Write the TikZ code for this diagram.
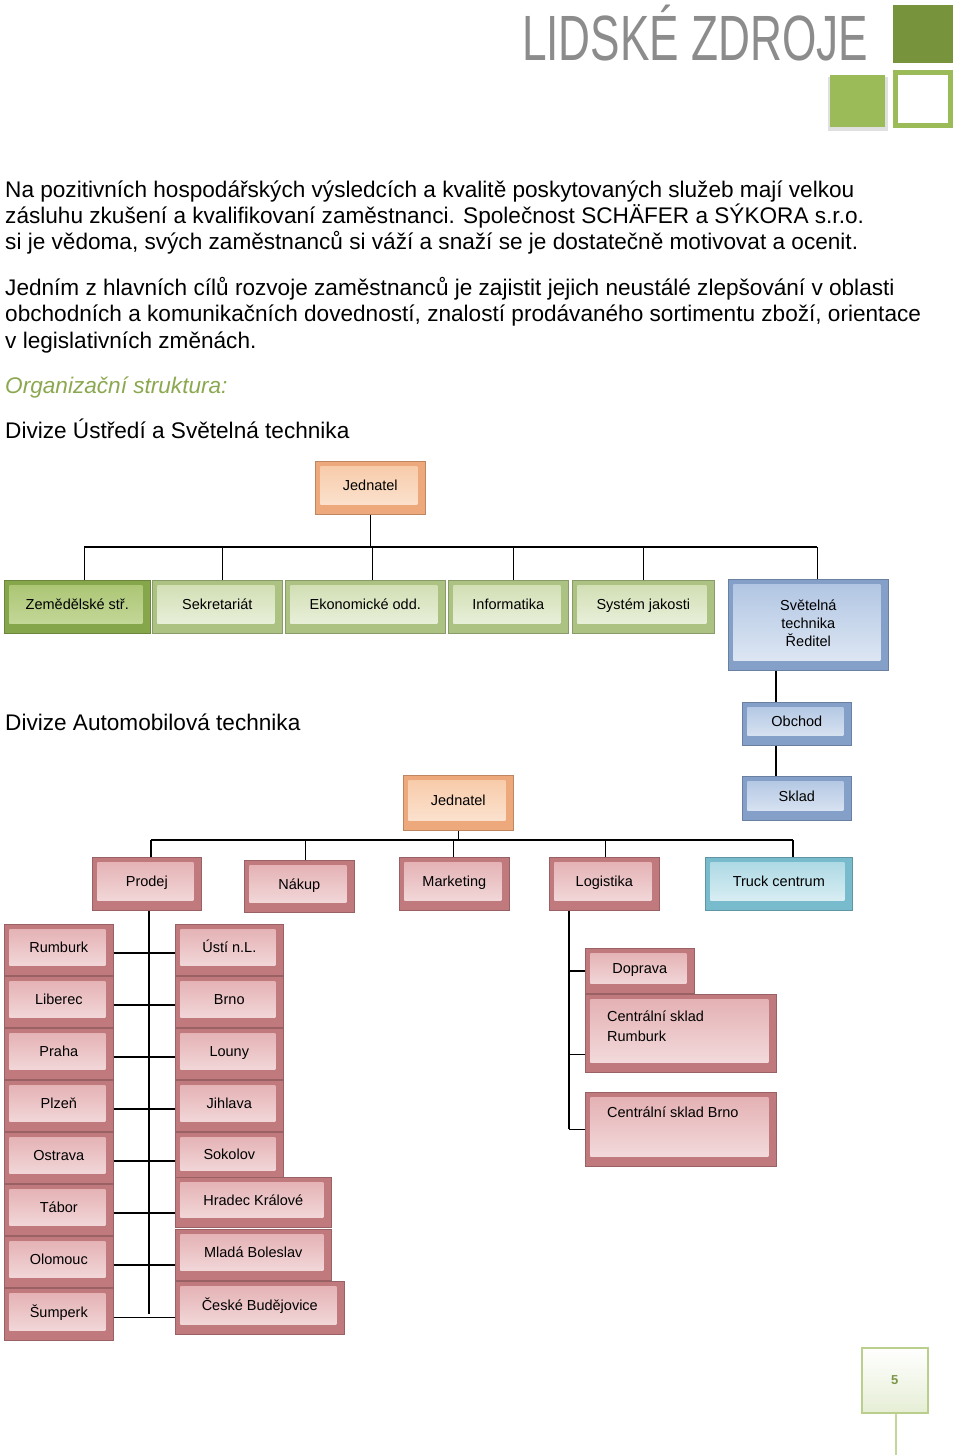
\documentclass[tikz,border=0pt]{standalone}
\usepackage{fontspec}
\setmainfont{Liberation Sans}
\definecolor{pinkO}{HTML}{C0797D}\definecolor{pinkT}{HTML}{E3AEB1}\definecolor{pinkB}{HTML}{F5E0E1}
\definecolor{grnO}{HTML}{ABC282}\definecolor{grnT}{HTML}{CFDDB0}\definecolor{grnB}{HTML}{EEF3E2}
\definecolor{dgrO}{HTML}{86A64C}\definecolor{dgrT}{HTML}{A9C471}\definecolor{dgrB}{HTML}{C9DBA0}
\definecolor{bluO}{HTML}{85A0C8}\definecolor{bluT}{HTML}{AFC4E2}\definecolor{bluB}{HTML}{E2EAF5}
\definecolor{orgO}{HTML}{EDA97B}\definecolor{orgT}{HTML}{F7C9A6}\definecolor{orgB}{HTML}{FCE6D6}
\definecolor{cyaO}{HTML}{78BBCC}\definecolor{cyaT}{HTML}{A9D7E3}\definecolor{cyaB}{HTML}{E2F2F6}
\definecolor{ttlgrey}{HTML}{8C8C8C}
\definecolor{dkgreen}{HTML}{77933C}\definecolor{ltgreen}{HTML}{9BBB59}
\tikzset{
 bev/.style n args={3}{fill=#1, draw=#1!80!black, line width=0.6pt,
   path picture={\shade[top color=#2,bottom color=#3]
     ([shift={(5pt,-5pt)}]path picture bounding box.north west) rectangle
     ([shift={(-8pt,10pt)}]path picture bounding box.south east);}},
 pinkb/.style={bev={pinkO}{pinkT}{pinkB}},
 grnb/.style={bev={grnO}{grnT}{grnB}},
 dgrb/.style={bev={dgrO}{dgrT}{dgrB}},
 blub/.style={bev={bluO}{bluT}{bluB}},
 orgb/.style={bev={orgO}{orgT}{orgB}},
 cyab/.style={bev={cyaO}{cyaT}{cyaB}},
 body/.style={anchor=base west, inner sep=0pt, font=\fontsize{22.6}{26}\selectfont},
 conn/.style={draw=black, line width=1.5pt},
}
\newcommand\bx[7]{\node[#6, minimum width={(#4-#2)*1pt}, minimum height={(#5-#3)*1pt},
  inner sep=0pt, anchor=north west, font=\fontsize{14.5}{18}\selectfont] (#1) at (#2,#3)
  {\raisebox{7pt}{\begin{tabular}{@{}c@{}}#7\end{tabular}}};}
\begin{document}
\begin{tikzpicture}[x=1pt,y=-1pt]
\useasboundingbox (0,0) rectangle (960,1455);
% header
\node[anchor=base west, inner sep=0pt, text=ttlgrey, xscale=0.69, font=\fontsize{64}{64}\selectfont] (title) at (522,61) {LIDSKÉ ZDROJE};
\fill[dkgreen] (893,5) rectangle (953,63);
\fill[black!12] (828,77) rectangle (888,131);
\fill[ltgreen] (830,75) rectangle (885,127);
\draw[ltgreen, line width=5pt] (895.5,72.5) rectangle (950.5,125.5);
% text
\node[body] (p1) at (5,198) {Na pozitivních hospodářských výsledcích a kvalitě poskytovaných služeb mají velkou};
\node[body] (p2) at (5,224) {zásluhu zkušení a kvalifikovaní zaměstnanci. Společnost SCHÄFER a SÝKORA s.r.o.};
\node[body] (p3) at (5,250) {si je vědoma, svých zaměstnanců si váží a snaží se je dostatečně motivovat a ocenit.};
\node[body] (q1) at (5,295) {Jedním z hlavních cílů rozvoje zaměstnanců je zajistit jejich neustálé zlepšování v oblasti};
\node[body] (q2) at (5,321) {obchodních a komunikačních dovedností, znalostí prodávaného sortimentu zboží, orientace};
\node[body] (q3) at (5,348) {v legislativních změnách.};
\node[body, text=ltgreen!90!black, font=\fontsize{22.6}{26}\selectfont\itshape] (org) at (5,393) {Organizační struktura:};
\node[body] (div1) at (5,438) {Divize Ústředí a Světelná technika};
\node[body] (div2) at (5,730) {Divize Automobilová technika};
% chart 1
\bx{jed1}{315}{461}{425}{514}{orgb}{Jednatel}
\bx{zem}{4}{580}{150}{633}{dgrb}{Zemědělské stř.}
\bx{sek}{152}{580}{282}{633}{grnb}{Sekretariát}
\bx{eko}{285}{580}{445}{633}{grnb}{Ekonomické odd.}
\bx{inf}{448}{580}{568}{633}{grnb}{Informatika}
\bx{sys}{572}{580}{714}{633}{grnb}{Systém jakosti}
\bx{svt}{728}{579}{888}{670}{blub}{Světelná\\technika\\Ředitel}
\bx{obc}{742}{702}{851}{745}{blub}{Obchod}
\bx{skl}{742}{776}{851}{820}{blub}{Sklad}
\coordinate (b1) at (0,547);
\draw[conn] (jed1.south) -- (jed1.south |- b1);
\draw[conn] ([xshift=7pt]zem.north |- b1) -- ([xshift=9pt]svt.north |- b1);
\foreach \n/\d in {zem/7,sek/5,eko/7,inf/5,sys/0,svt/9} \draw[conn] ([xshift=\d pt]\n.north) -- ([xshift=\d pt]\n.north |- b1);
\draw[conn] ([xshift=-21pt]obc.north |- svt.south) -- ([xshift=-21pt]obc.north);
\draw[conn] ([xshift=-21pt]obc.south) -- ([xshift=-21pt]skl.north);
% chart 2
\bx{jed2}{403}{775}{513}{830}{orgb}{Jednatel}
\bx{pro}{92}{857}{201}{910}{pinkb}{Prodej}
\bx{nak}{244}{860}{354}{912}{pinkb}{Nákup}
\bx{mar}{399}{857}{509}{910}{pinkb}{Marketing}
\bx{log}{549}{857}{659}{910}{pinkb}{Logistika}
\bx{trk}{705}{857}{852}{910}{cyab}{Truck centrum}
\coordinate (b2) at (0,840);
\draw[conn] (jed2.south) -- (jed2.south |- b2);
\draw[conn] ([xshift=4pt]pro.north |- b2) -- ([xshift=14pt]trk.north |- b2);
\foreach \n/\d in {pro/4,nak/6,mar/-1,log/1,trk/14} \draw[conn] ([xshift=\d pt]\n.north) -- ([xshift=\d pt]\n.north |- b2);
% left columns
\bx{rum}{4}{924}{113}{975}{pinkb}{Rumburk}
\bx{lib}{4}{976}{113}{1027}{pinkb}{Liberec}
\bx{pra}{4}{1028}{113}{1079}{pinkb}{Praha}
\bx{plz}{4}{1080}{113}{1131}{pinkb}{Plzeň}
\bx{ost}{4}{1132}{113}{1183}{pinkb}{Ostrava}
\bx{tab}{4}{1184}{113}{1235}{pinkb}{Tábor}
\bx{olo}{4}{1236}{113}{1287}{pinkb}{Olomouc}
\bx{sum}{4}{1288}{113}{1340}{pinkb}{Šumperk}
\bx{ust}{175}{924}{283}{975}{pinkb}{Ústí n.L.}
\bx{brn}{175}{976}{283}{1027}{pinkb}{Brno}
\bx{lou}{175}{1028}{283}{1079}{pinkb}{Louny}
\bx{jih}{175}{1080}{283}{1131}{pinkb}{Jihlava}
\bx{sok}{175}{1132}{283}{1180}{pinkb}{Sokolov}
\bx{hra}{175}{1177}{331}{1227}{pinkb}{Hradec Králové}
\bx{mla}{175}{1229}{331}{1280}{pinkb}{Mladá Boleslav}
\bx{ceb}{175}{1281}{344}{1334}{pinkb}{České Budějovice}
\draw[conn] ([xshift=2pt]pro.south) -- ([xshift=2pt]pro.south |- sum.east);
\foreach \a/\b in {rum/ust,lib/brn,pra/lou,plz/jih,ost/sok} \draw[conn] ([yshift=-3pt]\a.east) -- ([yshift=-3pt]\a.east -| \b.west);
\foreach \a/\b in {tab/hra,olo/mla,sum/ceb} \draw[conn] ([yshift=-3pt]\a.east) -- ([yshift=-3pt]\a.east -| \b.west);
% logistics
\bx{dop}{585}{948}{694}{993}{pinkb}{Doprava}
\bx{cru}{585}{994}{776}{1072}{pinkb}{}
\bx{cbr}{585}{1092}{776}{1166}{pinkb}{}
\node[anchor=north west, align=left, inner sep=0pt, font=\fontsize{14.5}{20}\selectfont] (crut) at (607,1011) {Centrální sklad\\Rumburk};
\node[anchor=north west, inner sep=0pt, font=\fontsize{14.5}{20}\selectfont] (cbrt) at (607,1107) {Centrální sklad Brno};
\coordinate (lv) at ([xshift=20pt]log.south west);
\draw[conn] (lv) -- (lv |- cbr.west);
\draw[conn] (lv |- dop.west) -- (dop.west);
\draw[conn] ([yshift=-21pt]cru.west -| lv) -- ([yshift=-21pt]cru.west);
\draw[conn] (lv |- cbr.west) -- (cbr.west);
% page number
\draw[ltgreen!60, line width=1.5pt] (896,1412) -- (896,1455);
\node[draw=ltgreen!70, line width=1.5pt, top color=white, bottom color=ltgreen!25, minimum width=66pt, minimum height=65pt, inner sep=0pt, anchor=north west, text=ltgreen!80!black, font=\fontsize{13}{13}\selectfont\bfseries] (pg) at (861,1347) {5};
\end{tikzpicture}
\end{document}
